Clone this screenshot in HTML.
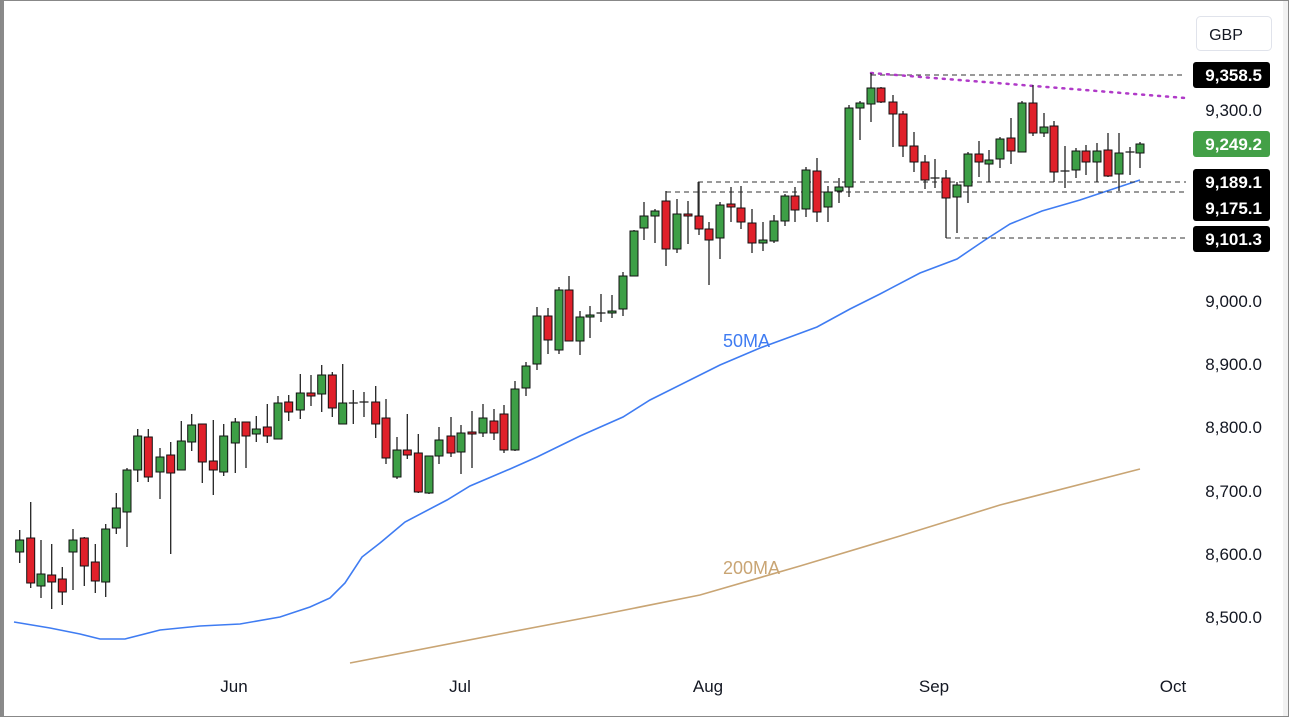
<!DOCTYPE html>
<html><head><meta charset="utf-8"><style>
html,body{margin:0;padding:0;background:#fff}
svg{display:block}
text{font-family:"Liberation Sans",sans-serif}
</style></head><body>
<svg width="1289" height="717" viewBox="0 0 1289 717" xmlns="http://www.w3.org/2000/svg">
<rect x="0.5" y="0.5" width="1288" height="716" fill="#fff" stroke="#888" stroke-width="1"/>
<rect x="1" y="1" width="3" height="715" fill="#8a8a8a"/>
<rect x="1283" y="1" width="5" height="715" fill="#f2f2f2"/>
<polyline fill="none" stroke="#c9a574" stroke-width="1.6" points="350,663 500,634 600,615 700,595 800,566 900,536 1000,505 1140,469"/>
<polyline fill="none" stroke="#3f7cf2" stroke-width="1.6" points="14,622 50,628 80,634 100,639 125,639 160,630 200,626 240,624 280,617 310,607 330,598 345,583 362,557 380,543 405,522 447,500 470,486 510,469 537,457 580,436 623,417 650,400 690,380 720,365 760,348 790,337 817,327 850,309 880,294 920,273 957,259 985,240 1010,224 1042,211 1080,200 1140,180"/>
<text x="723" y="347" fill="#3f7cf2" font-size="18">50MA</text>
<text x="723" y="574" fill="#c9a574" font-size="18">200MA</text>
<g stroke="#333" stroke-width="1" stroke-dasharray="5,4" fill="none">
<line x1="871" y1="75" x2="1186" y2="75"/>
<line x1="698" y1="182" x2="1186" y2="182"/>
<line x1="666" y1="192" x2="1186" y2="192"/>
<line x1="946" y1="238" x2="1186" y2="238"/>
</g>
<g stroke="#333" stroke-width="1">
<line x1="666" y1="192" x2="666" y2="201"/>
<line x1="698" y1="182" x2="698" y2="216"/>
<line x1="871" y1="73" x2="871" y2="80"/>
</g>
<line x1="871" y1="73" x2="1185" y2="98" stroke="#b03ac8" stroke-width="2.5" stroke-dasharray="2,6" stroke-linecap="round"/>
<g id="candles" stroke="#111" stroke-width="1"></g>
<g font-size="17" fill="#131722">
<text x="1262" y="116" text-anchor="end">9,300.0</text>
<text x="1262" y="307" text-anchor="end">9,000.0</text>
<text x="1262" y="370" text-anchor="end">8,900.0</text>
<text x="1262" y="433" text-anchor="end">8,800.0</text>
<text x="1262" y="497" text-anchor="end">8,700.0</text>
<text x="1262" y="560" text-anchor="end">8,600.0</text>
<text x="1262" y="623" text-anchor="end">8,500.0</text>
<text x="234" y="692" text-anchor="middle">Jun</text>
<text x="460" y="692" text-anchor="middle">Jul</text>
<text x="708" y="692" text-anchor="middle">Aug</text>
<text x="934" y="692" text-anchor="middle">Sep</text>
<text x="1173" y="692" text-anchor="middle">Oct</text>
</g>
<rect x="1196.5" y="16.5" width="75" height="34" rx="4" fill="#fff" stroke="#e0e3eb"/>
<text x="1226" y="40" font-size="16" fill="#131722" text-anchor="middle">GBP</text>
<rect x="1193" y="62" width="77" height="26" rx="3" fill="#000"/>
<rect x="1193" y="131" width="77" height="26" rx="3" fill="#43a047"/>
<rect x="1193" y="169" width="77" height="52" rx="3" fill="#000"/>
<rect x="1193" y="226" width="77" height="26" rx="3" fill="#000"/>
<g font-size="17" font-weight="bold" fill="#fff" text-anchor="end">
<text x="1262" y="81">9,358.5</text>
<text x="1262" y="150">9,249.2</text>
<text x="1262" y="188">9,189.1</text>
<text x="1262" y="214">9,175.1</text>
<text x="1262" y="245">9,101.3</text>
</g>
</svg>
<script>
var c=[
[19.7,'G',540,552,530,563],[30.7,'R',538,583,502,588],[41,'G',574,586,540,598],[51.7,'R',575,582,544,609],[62.3,'R',579,592,567,605],
[73,'G',540,552,529,590],[84.3,'R',538,566,537,586],[95.3,'R',562,581,544,593],[105.7,'G',529,582,524,597],[116.3,'G',508,528,493,534],
[127,'G',470,512,468,547],[137.7,'G',436,470,429,482],[148.3,'R',437,477,429,482],[160,'G',457,472,448,499],[170.7,'R',455,473,442,554],
[181.3,'G',441,470,421,470],[191.7,'G',425,442,414,451],[202.3,'R',424,462,424,483],[213.3,'R',461,470,420,495],[223.7,'G',436,472,424,476],
[235.3,'G',422,443,418,473],[246,'R',422,436,422,468],[256.3,'G',429,434,416,442],[267.3,'R',427,436,404,443],[278,'G',403,439,396,439],
[288.7,'R',402,412,395,421],[300.3,'G',393,410,374,419],[311,'R',393,396,375,406],[321.7,'G',375,394,365,412],[332.3,'R',375,408,372,417],
[342.7,'G',403,424,364,424],[353.3,'D',403,403,390,424],[364,'D',402,402,392,417],[375.7,'R',402,424,386,438],[386,'R',418,458,399,464],
[397,'G',450,477,437,479],[407.3,'R',450,455,414,459],[418.3,'R',453,492,434,493],[429,'G',456,493,456,494],[439,'G',440,456,427,464],
[451,'R',436,453,417,457],[461,'G',433,452,425,474],[472,'R',432,434,411,468],[483,'G',418,433,404,437],[494,'R',421,433,409,440],
[504,'R',414,450,405,453],[515,'G',389,450,381,451],[526,'G',366,388,362,396],[537,'G',316,364,307,370],[548,'R',316,340,308,354],
[559,'G',290,350,287,354],[569,'R',290,341,276,341],[580,'G',317,341,311,355],[590,'G',315,317,306,338],[601,'D',313,313,294,322],
[612,'G',311,313,295,318],[623,'G',276,309,272,316],[634,'G',231,276,230,276],[644,'G',216,228,202,240],[655,'G',211,216,209,243],
[666,'R',201,249,191,266],[677,'G',214,249,199,253],[688,'R',214,216,201,244],[699,'R',216,229,182,235],[709,'R',229,240,222,285],
[720,'G',205,238,202,259],[731,'R',204,207,187,222],[741,'R',208,222,186,229],[752,'R',223,243,209,253],[763,'G',240,243,222,251],
[774,'G',221,241,215,243],[785,'G',196,221,194,226],[795,'R',196,210,187,222],[806,'G',170,209,167,217],[817,'R',171,212,158,222],
[828,'G',192,207,186,222],[839,'G',187,191,178,203],[849,'G',108,187,105,197],[860,'G',103,108,101,140],[871,'G',88,104,73,122],
[881,'R',88,102,87,103],[893,'R',102,114,95,147],[903,'R',114,146,111,157],[914,'R',146,162,132,172],[925,'R',162,180,155,189],
[935,'D',178,178,159,188],[946,'R',178,198,170,238],[957,'G',185,197,182,233],[968,'G',154,186,152,203],[979,'R',154,162,141,177],
[989,'G',160,164,150,182],[1000,'G',139,159,137,168],[1011,'R',138,151,118,164],[1022,'G',103,152,101,152],[1033,'R',103,133,85,136],
[1044,'G',127,133,113,137],[1054,'R',126,172,121,182],[1065,'D',171,171,146,188],[1076,'G',151,170,148,178],[1086,'R',151,162,145,175],
[1097,'G',151,162,143,182],[1108,'R',150,176,133,177],[1119,'G',153,174,133,191],[1130,'D',152,152,147,175],[1140,'G',144,153,142,168]];
var g=document.getElementById('candles'),s='';
c.forEach(function(k){var x=k[0];
s+='<line x1="'+x+'" y1="'+k[4]+'" x2="'+x+'" y2="'+k[5]+'" stroke="#222" stroke-width="1.3"/>';
if(k[1]=='D'){s+='<line x1="'+(x-4.5)+'" y1="'+k[2]+'" x2="'+(x+4.5)+'" y2="'+k[2]+'" stroke="#222" stroke-width="1.3"/>';}
else{var h=Math.max(k[3]-k[2],2);s+='<rect x="'+(x-4)+'" y="'+k[2]+'" width="8" height="'+h+'" fill="'+(k[1]=='G'?'#3d9f46':'#e0202a')+'"/>';}
});
g.innerHTML=s;
</script>
</body></html>
